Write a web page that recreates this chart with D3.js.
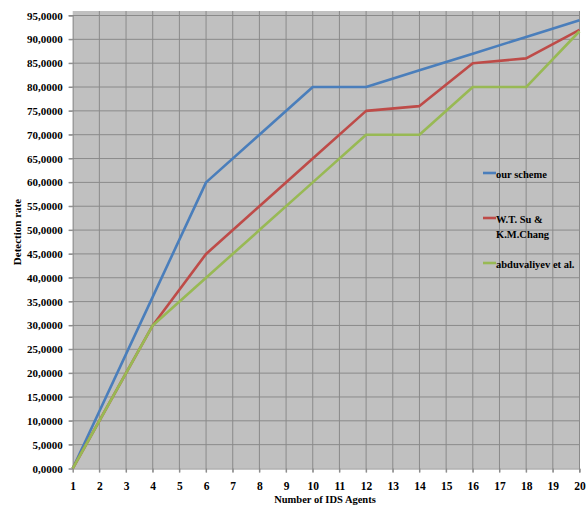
<!DOCTYPE html>
<html><head><meta charset="utf-8">
<script src="https://cdn.jsdelivr.net/npm/d3@7"></script>
<style>body{margin:0;background:#fff}svg{display:block}</style>
</head><body>
<svg id="c" width="587" height="506"></svg>
<script>
const categories = d3.range(1, 21);
const xPoints = [1, 4, 6, 8, 10, 12, 14, 16, 18, 20];
const ourScheme = [0, 36000, 60000, 70000, 80000, 80000, 83500, 87000, 90500, 94000];
const suChang = [0, 30000, 45000, 55000, 65000, 75000, 76000, 85000, 86000, 92000];
const abduvaliyev = [0, 30000, 40000, 50000, 60000, 70000, 70000, 80000, 80000, 91700];
const yTicks = d3.range(0, 95001, 5000);
const seriesNames = ["our scheme", "W.T. Su &\nK.M.Chang", "abduvaliyev et al."];
const colors = ["#4a7ebb", "#be4b48", "#98b954"];

const svg = d3.select("#c");
const L = 72.7, R = 579.5, T = 15.5, B = 468.5;
const x = d3.scaleLinear().domain([1, 20]).range([L, R]);
const y = d3.scaleLinear().domain([0, 95000]).range([B, T]);
const font = "'Liberation Serif','Times New Roman',serif";

svg.append("rect").attr("x", L).attr("y", 11).attr("width", R - L).attr("height", B - 11).attr("fill", "#c0c0c0");

// gridlines
svg.append("g").selectAll("line").data(yTicks.slice(1)).join("line")
  .attr("x1", L - 4).attr("x2", R).attr("y1", d => y(d)).attr("y2", d => y(d))
  .attr("stroke", "#8a8a8a").attr("stroke-width", 1);
svg.append("g").selectAll("line").data(categories.slice(1)).join("line")
  .attr("x1", d => x(d)).attr("x2", d => x(d)).attr("y1", 11).attr("y2", B + 4)
  .attr("stroke", "#8a8a8a").attr("stroke-width", 1);

// axes
const yAxis = svg.append("g").attr("transform", `translate(${L},0)`)
  .call(d3.axisLeft(y).tickValues(yTicks).tickSize(4).tickPadding(6)
    .tickFormat(d => (d / 1000) + ",0000"));
const xAxis = svg.append("g").attr("transform", `translate(0,${B})`)
  .call(d3.axisBottom(x).tickValues(categories).tickSize(4).tickFormat(d3.format("d")));
[yAxis, xAxis].forEach(g => {
  g.attr("font-family", font);
  g.select(".domain").attr("stroke", "#8a8a8a");
  g.selectAll(".tick line").attr("stroke", "#8a8a8a");
  g.selectAll("text").attr("font-family", font).attr("font-weight", "bold").attr("font-size", 11).attr("fill", "#000");
});
xAxis.selectAll("text").attr("font-size", 11.5).attr("y", 21.5).attr("dy", 0);

// lines
const line = d3.line().x((d, i) => x(xPoints[i])).y(d => y(d));
const paths = [ourScheme, suChang, abduvaliyev].map((s, i) =>
  svg.append("path").datum(s).attr("d", line).attr("fill", "none")
    .attr("stroke", colors[i]).attr("stroke-width", 2.6).attr("stroke-linejoin", "round"));

// legend
const legY = [174, 219, 264];
seriesNames.forEach((n, i) => {
  svg.append("line").attr("x1", 483).attr("x2", 496).attr("y1", legY[i] - 1).attr("y2", legY[i] - 1)
    .attr("stroke", colors[i]).attr("stroke-width", 2.6);
  const t = svg.append("text").attr("x", 496).attr("y", legY[i] + 4)
    .attr("font-family", font).attr("font-weight", "bold").attr("font-size", 10.5).attr("fill", "#000");
  n.split("\n").forEach((p, k) => t.append("tspan").attr("x", 496).attr("dy", k ? 15 : 0).text(p));
});

// titles
svg.append("text").attr("transform", "translate(21,232) rotate(-90)").attr("text-anchor", "middle")
  .attr("font-family", font).attr("font-weight", "bold").attr("font-size", 11).text("Detection rate");
svg.append("text").attr("x", 325).attr("y", 503).attr("text-anchor", "middle")
  .attr("font-family", font).attr("font-weight", "bold").attr("font-size", 10.5).text("Number of IDS Agents");
</script>
</body></html>
